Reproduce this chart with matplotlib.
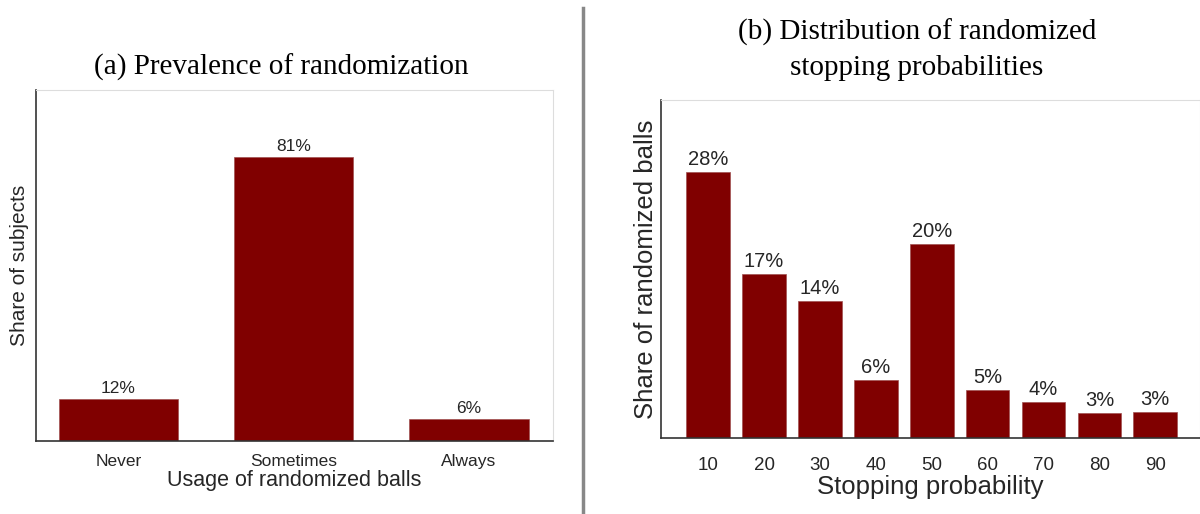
import matplotlib
matplotlib.use("Agg")
import matplotlib.pyplot as plt
from matplotlib.lines import Line2D

# data
usage_cats = ["Never", "Sometimes", "Always"]
usage_share = [0.12, 0.81, 0.063]

stop_probs = ["10", "20", "30", "40", "50", "60", "70", "80", "90"]
stop_share = [0.277, 0.171, 0.143, 0.060, 0.202, 0.050, 0.037, 0.026, 0.027]

bar_col = "#800000"
txt_col = "#262626"

plt.rcParams["font.family"] = ["Liberation Sans", "DejaVu Sans"]

fig = plt.figure(figsize=(12, 5.14), dpi=100)

def style(ax, pad):
    for s in ["left", "bottom"]:
        ax.spines[s].set_color("#333333")
        ax.spines[s].set_linewidth(1.2)
    for s in ["top", "right"]:
        ax.spines[s].set_color("#dddddd")
        ax.spines[s].set_linewidth(0.8)
    ax.tick_params(length=0, colors=txt_col, pad=pad)
    ax.set_yticks([])

# (a)
ax1 = fig.add_axes([0.030, 0.142, 0.431, 0.683])
x1 = range(len(usage_cats))
ax1.bar(x1, usage_share, width=0.68, color=bar_col, edgecolor="#a05050", linewidth=0.5)
for i, v in zip(x1, usage_share):
    ax1.text(i, v + 0.008, f"{v:.0%}", ha="center", va="bottom", fontsize=12.5, color=txt_col)
ax1.set_xticks(list(x1))
ax1.set_xticklabels(usage_cats, fontsize=12.5)
ax1.set_ylim(0, 1.0)
ax1.set_xlim(-0.47, 2.48)
style(ax1, 9)
ax1.set_xlabel("Usage of randomized balls", fontsize=15.5, color=txt_col, labelpad=1)
ax1.set_ylabel("Share of subjects", fontsize=15, color=txt_col, labelpad=5)

# (b)
ax2 = fig.add_axes([0.551, 0.148, 0.449, 0.658])
x2 = range(len(stop_probs))
ax2.bar(x2, stop_share, width=0.78, color=bar_col, edgecolor="#a05050", linewidth=0.5)
for i, v in zip(x2, stop_share):
    ax2.text(i, v + 0.003, f"{v:.0%}", ha="center", va="bottom", fontsize=14.5, color=txt_col)
ax2.set_xticks(list(x2))
ax2.set_xticklabels(stop_probs, fontsize=13.5)
ax2.set_ylim(0, 0.352)
ax2.set_xlim(-0.84, 8.80)
style(ax2, 13.5)
ax2.set_xlabel("Stopping probability", fontsize=18.5, color=txt_col, labelpad=1)
ax2.set_ylabel("Share of randomized balls", fontsize=18.5, color=txt_col, labelpad=2)

# titles
fig.text(281 / 1200, 1 - 67 / 514, "(a) Prevalence of randomization",
         family="Liberation Serif", fontsize=21, ha="center", va="center", color="black")
fig.text(917 / 1200, 1 - 50 / 514, "(b) Distribution of randomized\nstopping probabilities",
         family="Liberation Serif", fontsize=21, ha="center", va="center", color="black",
         linespacing=1.42)

# divider
fig.add_artist(Line2D([583 / 1200, 583 / 1200], [1 - 8 / 514, 1 - 512 / 514],
                      transform=fig.transFigure, color="#888888", linewidth=2.5))

fig.savefig("out.png", dpi=100)
